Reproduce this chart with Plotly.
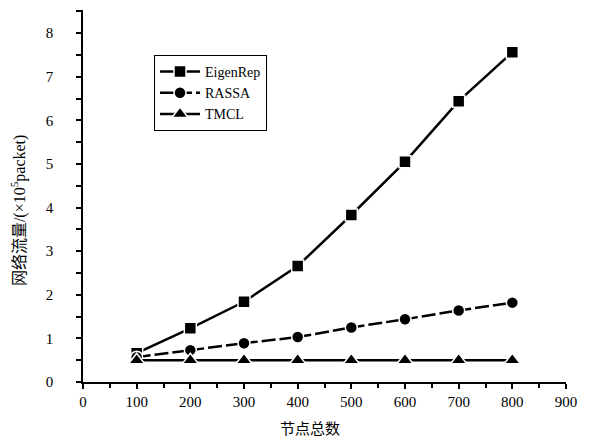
import plotly.graph_objects as go

nodes = [100, 200, 300, 400, 500, 600, 700, 800]
eigenrep = [0.66, 1.23, 1.84, 2.66, 3.83, 5.05, 6.44, 7.56]
rassa = [0.57, 0.73, 0.89, 1.03, 1.25, 1.44, 1.64, 1.82]
tmcl = [0.50, 0.50, 0.50, 0.50, 0.50, 0.50, 0.50, 0.50]

x_ticks = [0, 100, 200, 300, 400, 500, 600, 700, 800, 900]
y_ticks = [0, 1, 2, 3, 4, 5, 6, 7, 8]

x_title = "节点总数"
y_title = "网络流量/(×10<sup>5</sup>packet)"

serif = "Liberation Serif"

fig = go.Figure()
series = [
    ("EigenRep", eigenrep, "square", 12, "solid"),
    ("RASSA", rassa, "circle", 12, "14px,4px"),
    ("TMCL", tmcl, "triangle-up", 14, "solid"),
]
for name, vals, sym, size, dash in series:
    fig.add_trace(go.Scatter(
        x=nodes, y=vals, name=name, mode="lines+markers",
        line=dict(color="black", width=2.5, dash=dash),
        marker=dict(symbol=sym, size=size, color="black",
                    line=dict(color="white", width=1.5)),
    ))

fig.update_layout(
    width=589, height=431,
    margin=dict(l=75, r=31, t=2, b=57),
    paper_bgcolor="white", plot_bgcolor="white",
    font=dict(family=serif, size=15, color="black"),
    showlegend=True,
    legend=dict(
        x=0.147, y=0.879, xanchor="left", yanchor="top",
        bordercolor="black", borderwidth=1, bgcolor="white",
        font=dict(family=serif, size=14, color="black"),
        itemwidth=40, tracegroupgap=0,
    ),
    xaxis=dict(
        range=[0, 900], tickvals=x_ticks, ticktext=[str(v) for v in x_ticks],
        automargin=False,
        showgrid=False, zeroline=False, showline=True, linecolor="black", linewidth=1.5,
        ticks="outside", ticklen=5, tickwidth=1.5, tickcolor="black",
        minor=dict(dtick=50, ticks="outside", ticklen=4, tickwidth=1.5, tickcolor="black"),
        tickfont=dict(family=serif, size=15),
    ),
    yaxis=dict(
        range=[0, 8.53], tickvals=y_ticks, ticktext=[str(v) for v in y_ticks],
        automargin=False,
        showgrid=False, zeroline=False, showline=True, linecolor="black", linewidth=1.5,
        ticks="outside", ticklen=5, tickwidth=1.5, tickcolor="black",
        minor=dict(dtick=0.5, ticks="outside", ticklen=5, tickwidth=1.5, tickcolor="black"),
        ticklabelstandoff=20,
        tickfont=dict(family=serif, size=15),
    ),
    annotations=[
        dict(text=x_title, xref="paper", yref="paper", x=0.47, y=-0.121,
             xanchor="center", yanchor="middle", showarrow=False,
             font=dict(family="Noto Sans CJK SC", size=15, color="black")),
        dict(text=y_title, xref="paper", yref="paper", x=-0.1346, y=0.462,
             xanchor="center", yanchor="middle", showarrow=False, textangle=-90,
             font=dict(family=serif + ", Noto Sans CJK SC", size=16, color="black")),
    ],
)

fig.write_html("out.html")
